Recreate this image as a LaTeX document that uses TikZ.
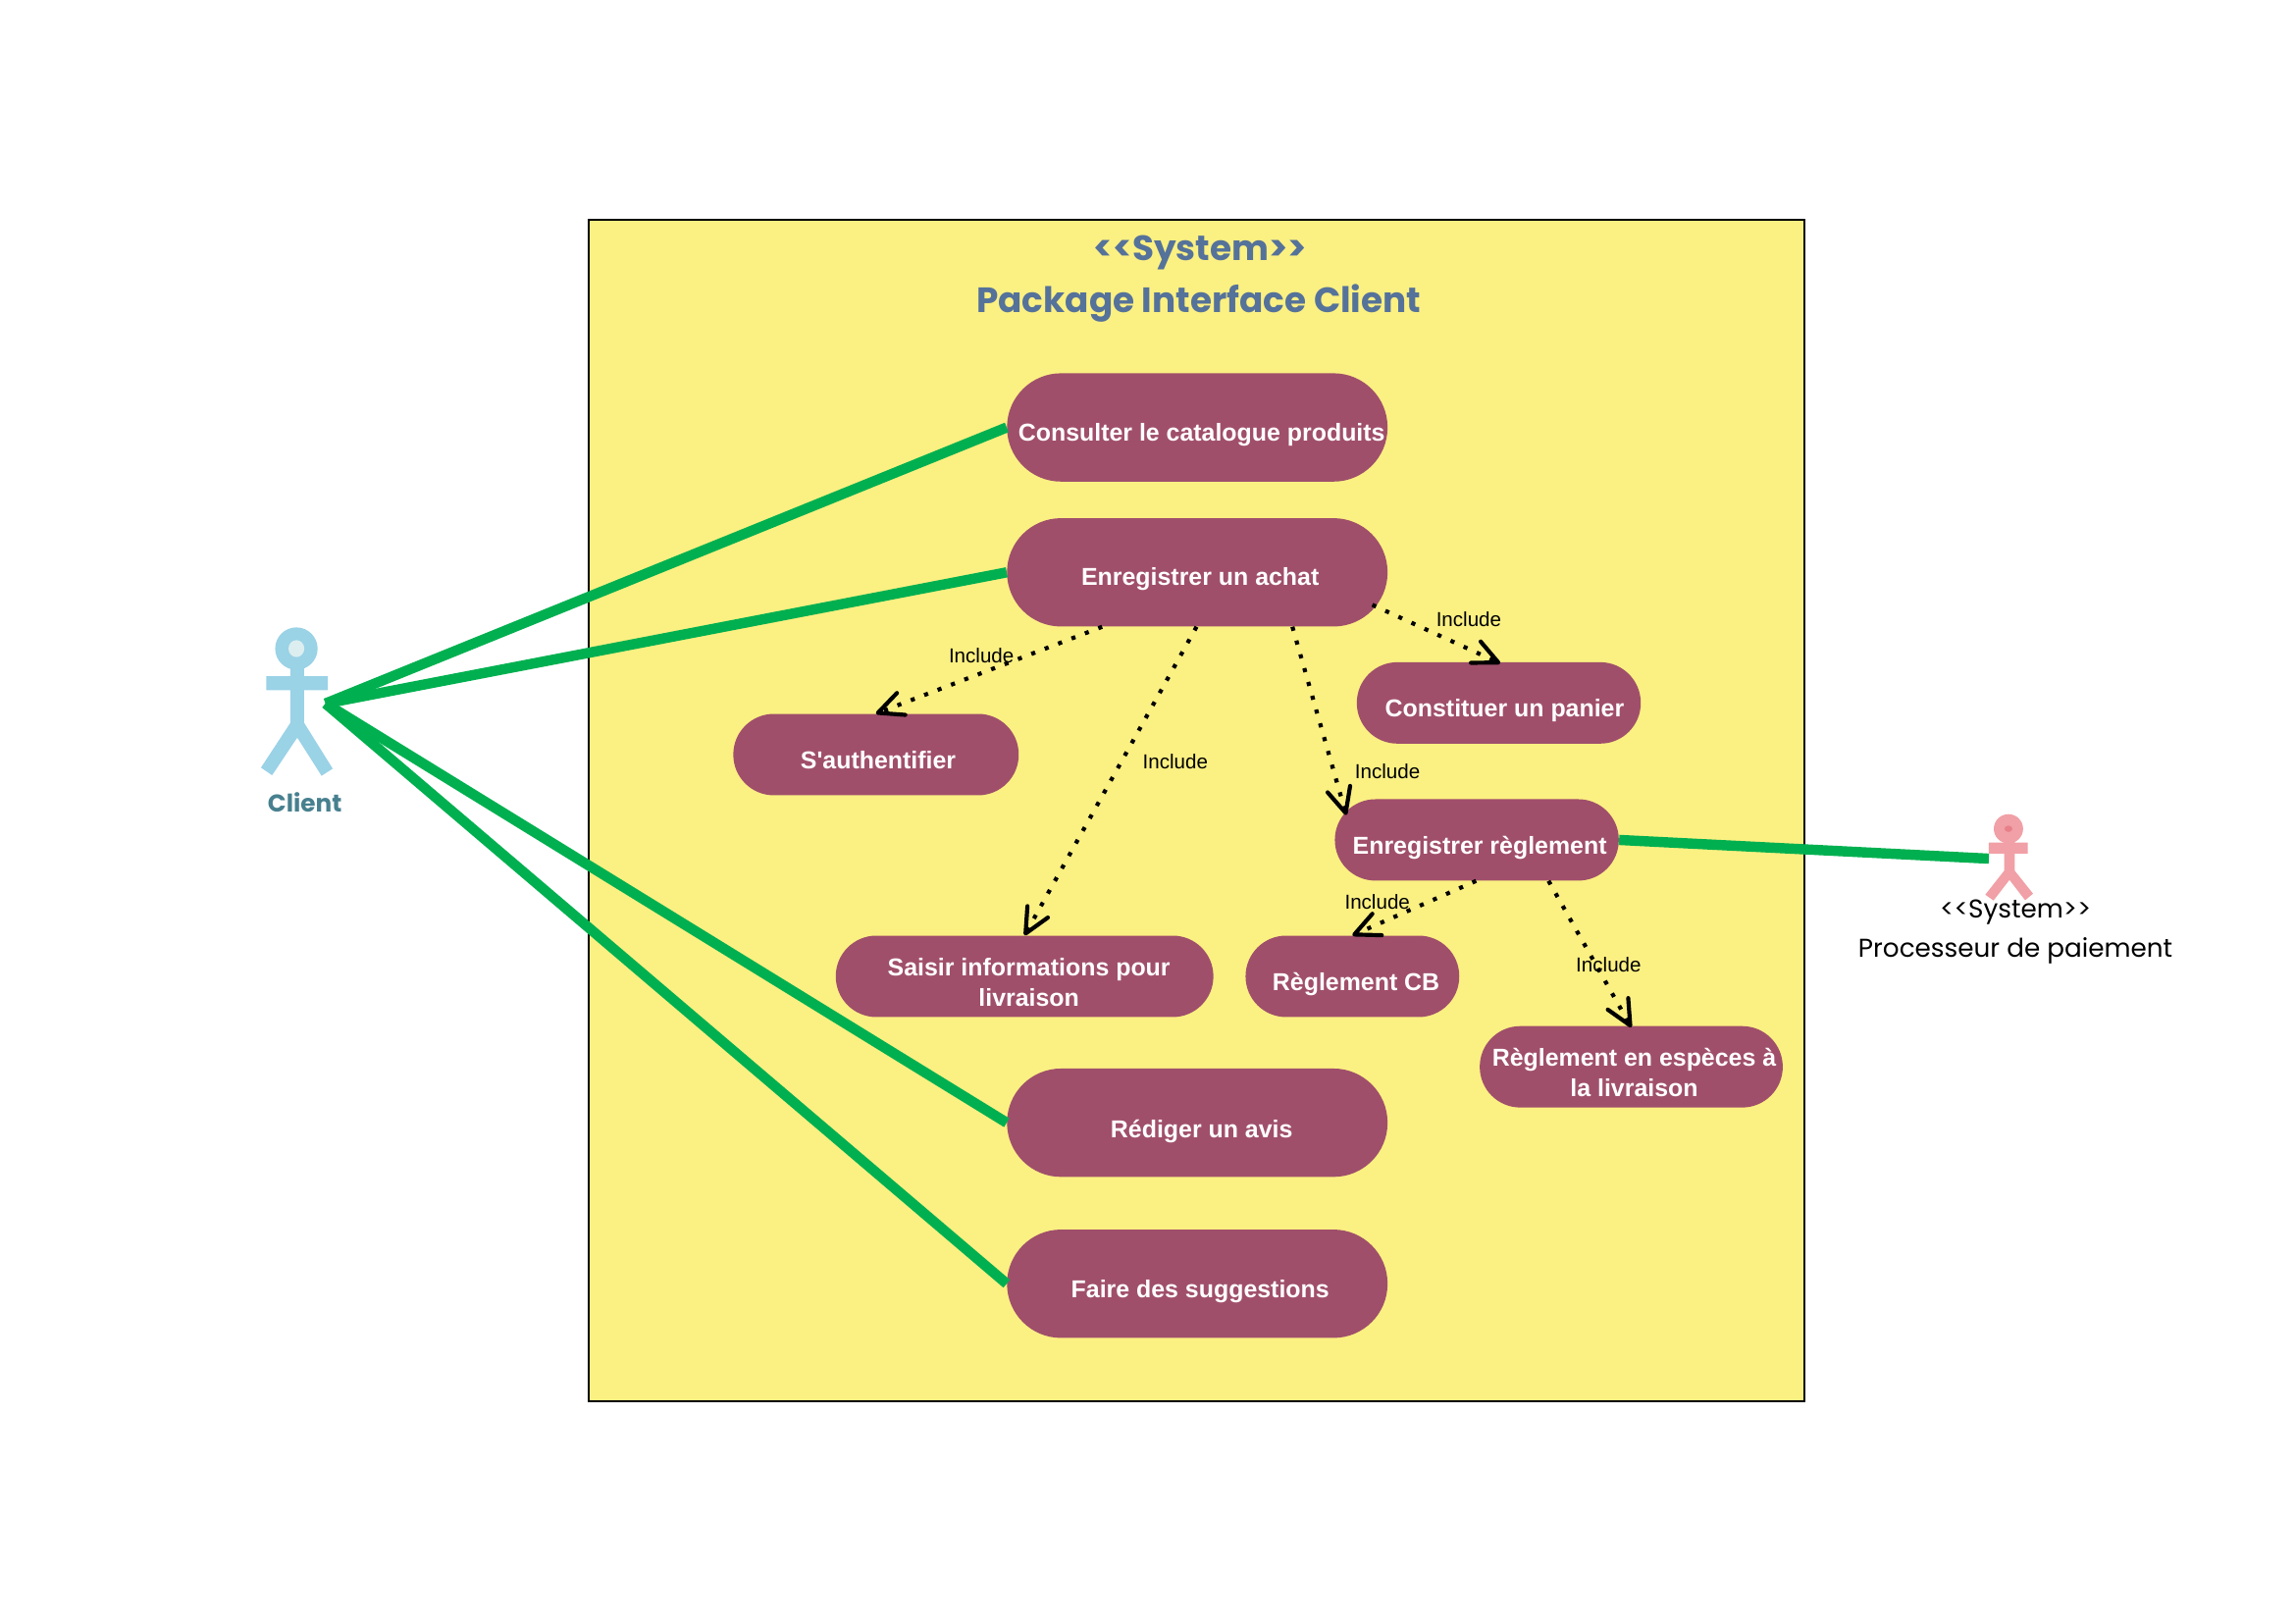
\documentclass[tikz,border=0pt]{standalone}
\usepackage{fontspec}
\setmainfont{Liberation Sans}
\newfontfamily\plainsans{Liberation Sans}
\newfontfamily\comicfont{Poppins}
\usetikzlibrary{arrows.meta}
\definecolor{sysfill}{HTML}{FBF082}
\definecolor{pillfill}{HTML}{A04F6B}
\definecolor{assoc}{HTML}{00B050}
\definecolor{titleblue}{HTML}{55729A}
\definecolor{clientblue}{HTML}{9AD2E6}
\definecolor{clienthole}{HTML}{DCEEF0}
\definecolor{clienttext}{HTML}{47808F}
\definecolor{procpink}{HTML}{F0A0A6}
\definecolor{procspot}{HTML}{E8808A}
\newcommand{\ptxt}[3]{\makebox[0pt]{\hspace{#1}\raisebox{#2}[0pt][0pt]{#3}}}
\newcommand{\twolines}[2]{\begin{tabular}[b]{@{}c@{}}#1\\#2\end{tabular}}
\tikzset{
  pillbase/.style={draw=none,fill=pillfill,text=white,inner sep=0pt,font=\fontsize{16.7}{21}\selectfont\bfseries},
  bigpill/.style={pillbase,minimum width=260pt,minimum height=74pt,rounded corners=36.9pt},
  smallpill/.style={pillbase,minimum height=55.6pt,rounded corners=27.7pt},
  assocline/.style={draw=assoc,line width=7pt},
  incl/.style={draw=black,line width=2.8pt,dash pattern=on 2.8pt off 7pt,
    -{Straight Barb[length=17pt,width=16pt,line width=2.8pt,round]}},
  incllabel/.style={font=\fontsize{13.8}{16}\selectfont,inner sep=0pt,text=black},
  systitle/.style={inner sep=0pt,text=titleblue,font=\comicfont\fontsize{24}{28}\selectfont\bfseries},
  proclabel/.style={inner sep=0pt,text=black,font=\comicfont\fontsize{17.6}{20}\selectfont},
}
\begin{document}
\begin{tikzpicture}[x=1pt,y=-1pt]
\useasboundingbox (0,0) rectangle (1568,1108.8);
% system frame
\draw[black,line width=1.3pt,fill=sysfill] (402,150) rectangle (1233,957.5);
\node[systitle] (t1) at (820,172.5) {<{}<{}System>{}>};
\node[systitle] (t2) at (819,207) {Package Interface Client};
% use cases
\node[bigpill] (cons) at (818,292) {\ptxt{6pt}{-9.6pt}{Consulter le catalogue produits}};
\node[bigpill] (enr) at (818,391) {\ptxt{4pt}{-8.8pt}{Enregistrer un achat}};
\node[smallpill,minimum width=195pt] (auth) at (598.5,515.5) {\ptxt{3pt}{-9.6pt}{\plainsans S'authentifier}};
\node[smallpill,minimum width=194pt] (panier) at (1024,480.2) {\ptxt{8pt}{-9.6pt}{Constituer un panier}};
\node[smallpill,minimum width=194pt] (reg) at (1009,573.8) {\ptxt{4pt}{-9.6pt}{Enregistrer règlement}};
\node[smallpill,minimum width=258pt] (saisir) at (700,667) {\ptxt{6pt}{-20.5pt}{\twolines{Saisir informations pour}{livraison}}};
\node[smallpill,minimum width=146pt] (cb) at (924,667) {\ptxt{5pt}{-10pt}{Règlement CB}};
\node[smallpill,minimum width=207pt] (esp) at (1114.5,728.8) {\ptxt{4pt}{-20.5pt}{\twolines{Règlement en espèces à}{la livraison}}};
\node[bigpill] (red) at (818,767) {\ptxt{6pt}{-10.4pt}{Rédiger un avis}};
\node[bigpill] (sug) at (818,877) {\ptxt{4pt}{-9.6pt}{Faire des suggestions}};
% actor client
\coordinate (cport) at (222.4,480.6);
\fill[clientblue] (198.4,450) -- (207.8,450) -- (207.8,462) -- (224,462) -- (224,471.5) -- (207.8,471.5) -- (207.8,493.8)
  -- (227.3,525.1) -- (219.7,530) -- (203.1,503.9) -- (185.9,529.6) -- (178.3,524.4) -- (198.4,493.8)
  -- (198.4,471.5) -- (182,471.5) -- (182,462) -- (198.4,462) -- cycle;
\fill[clientblue] (202.5,443.1) circle[radius=14.5];
\fill[clienthole] (202.5,443.1) ellipse[x radius=5.4,y radius=5.8];
\node[inner sep=0pt,text=clienttext,font=\comicfont\fontsize{16.6}{20}\selectfont\bfseries] (clientlbl) at (208.3,548) {Client};
% actor processeur
\coordinate (pport) at (1358.8,586.6);
\fill[procpink] (1369.3,570) -- (1376.5,570) -- (1376.5,575.6) -- (1385.4,575.6) -- (1385.4,583.2) -- (1376.5,583.2) -- (1376.5,594.8)
  -- (1389,610.5) -- (1383.6,615) -- (1372.9,601.1) -- (1362,615.2) -- (1356.4,611.2) -- (1369.3,594.8)
  -- (1369.3,583.2) -- (1358.8,583.2) -- (1358.8,575.6) -- (1369.3,575.6) -- cycle;
\fill[procpink] (1372.2,566.2) circle[radius=10];
\fill[procspot] (1372.2,566.2) ellipse[x radius=2.7,y radius=2.2];
\node[proclabel] (p1) at (1377,623.5) {<{}<{}System>{}>};
\node[proclabel] (p2) at (1377,649.5) {Processeur de paiement};
% associations
\draw[assocline] (cport) -- (cons.west);
\draw[assocline] (cport) -- (enr.west);
\draw[assocline] (cport) -- (red.west);
\draw[assocline] (cport) -- (sug.west);
\draw[assocline] (reg.east) -- (pport);
% includes
\draw[incl] ([xshift=-65pt]enr.south) -- (auth.north);
\draw[incl] ([xshift=-0.5pt]enr.south) -- (saisir.north);
\draw[incl] ([xshift=65pt]enr.south) -- ([xshift=8pt,yshift=-11pt]reg.north west);
\draw[incl] ([xshift=-10.6pt,yshift=15pt]enr.south east) -- ([xshift=1pt,yshift=-1pt]panier.north);
\draw[incl] ([xshift=-0.5pt]reg.south) -- (cb.north);
\draw[incl] ([xshift=49pt]reg.south) -- ([yshift=-1pt]esp.north);
\node[incllabel] (i1) at (670.5,448) {Include};
\node[incllabel] (i2) at (803,520.5) {Include};
\node[incllabel] (i3) at (948,527) {Include};
\node[incllabel] (i4) at (1003.5,423) {Include};
\node[incllabel] (i5) at (941,616) {Include};
\node[incllabel] (i6) at (1099,659) {Include};
\end{tikzpicture}
\end{document}
